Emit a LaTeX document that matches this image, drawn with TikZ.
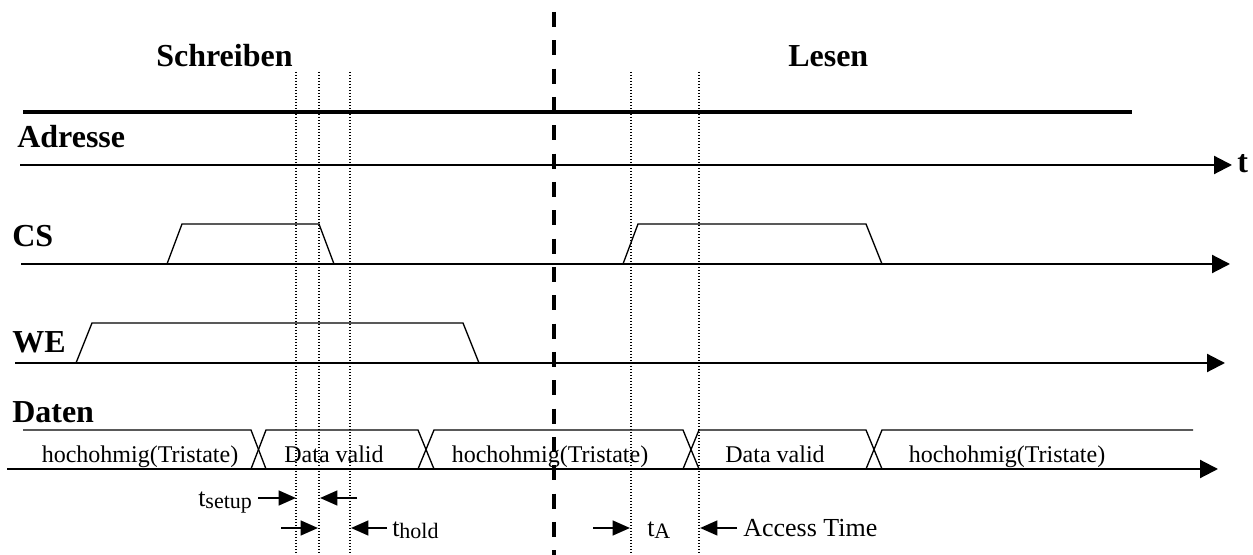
\documentclass[tikz,border=0pt]{standalone}
\usepackage{fontspec}
\setmainfont{Liberation Serif}
\usetikzlibrary{arrows.meta}
\begin{document}
\begin{tikzpicture}[x=0.75pt,y=-0.75pt,
  axis/.style={line width=1.6pt,-{Triangle[length=13.5pt,width=13.5pt]}},
  sig/.style={line width=1pt},
  lbl/.style={font=\fontsize{24pt}{28pt}\selectfont\bfseries,anchor=base west,inner sep=0pt},
  dtxt/.style={font=\fontsize{18pt}{21pt}\selectfont,anchor=base,inner sep=0pt},
  atxt/.style={font=\fontsize{19.5pt}{23pt}\selectfont,anchor=base west,inner sep=0pt},
  dotl/.style={line width=0.9pt,dash pattern=on 0.9pt off 1.35pt},
  tarr/.style={line width=1.7pt,-{Triangle[length=13pt,width=11pt]}},
  sepline/.style={line width=2.3pt,dash pattern=on 11.25pt off 10pt}
]
\newcommand{\subtxt}[1]{\raisebox{-1.5pt}{\fontsize{16.5pt}{19pt}\selectfont #1}}
\useasboundingbox (0,0) rectangle (1253,555);

% headings
\node[lbl] (schreiben) at (156,67) {Schreiben};
\node[lbl] (lesen) at (788,67) {Lesen};

% thick top line
\draw[line width=2.5pt] (23,112) -- (1132,112);

% labels
\node[lbl] (adr) at (17,148) {Adresse};
\node[lbl] (cs) at (12,247) {CS};
\node[lbl] (we) at (12,353) {WE};
\node[lbl] (daten) at (12,423) {Daten};
\node[lbl] (t) at (1237,173) {t};

% axes
\coordinate (a0) at (20,165); \coordinate (a1) at (1232,165);
\draw[axis] (a0) -- (a1);
\coordinate (c0) at (21,264); \coordinate (c1) at (1230,264);
\draw[axis] (c0) -- (c1);
\coordinate (w0) at (15,363); \coordinate (w1) at (1225,363);
\draw[axis] (w0) -- (w1);
\coordinate (d0) at (7,469); \coordinate (d1) at (1218,469);
\draw[axis] (d0) -- (d1);

% CS pulses
\draw[sig] (167,264) -- (182,224) -- (319,224) -- (334,264);
\draw[sig] (623,264) -- (638,224) -- (866,224) -- (882,264);

% WE pulse
\draw[sig] (76,363) -- (92,323) -- (463,323) -- (479,363);

% data bus
\draw[sig] (23,430) -- (251,430) -- (266,469);
\draw[sig] (251,469) -- (266,430) -- (418,430) -- (434,469);
\draw[sig] (418,469) -- (434,430) -- (683,430) -- (699,469);
\draw[sig] (683,469) -- (699,430) -- (866,430) -- (882,469);
\draw[sig] (866,469) -- (882,430) -- (1193,430);

\node[dtxt] (h1) at (140,463) {hochohmig(Tristate)};
\node[dtxt] (v1) at (334,463) {Data valid};
\node[dtxt] (h2) at (550,463) {hochohmig(Tristate)};
\node[dtxt] (v2) at (775,463) {Data valid};
\node[dtxt] (h3) at (1007,463) {hochohmig(Tristate)};

% dotted guide lines
\foreach \x in {296,319,350,631,699} \draw[dotl] (\x,72) -- (\x,555);

% timing annotations
\node[atxt] (tsetup) at (198,507) {t\subtxt{setup}};
\coordinate (s1) at (258,498); \coordinate (s2) at (296,498);
\draw[tarr] (s1) -- (s2);
\coordinate (s3) at (357,498); \coordinate (s4) at (320,498);
\draw[tarr] (s3) -- (s4);
\coordinate (h1a) at (281,528); \coordinate (h1b) at (318,528);
\draw[tarr] (h1a) -- (h1b);
\coordinate (h2a) at (387,528); \coordinate (h2b) at (351,528);
\draw[tarr] (h2a) -- (h2b);
\node[atxt] (thold) at (392,537) {t\subtxt{hold}};

\coordinate (r1a) at (593,528); \coordinate (r1b) at (630,528);
\draw[tarr] (r1a) -- (r1b);
\node[atxt] (ta) at (647,537) {t\subtxt{A}};
\coordinate (r2a) at (737,528); \coordinate (r2b) at (700,528);
\draw[tarr] (r2a) -- (r2b);
\node[atxt] (acc) at (743,537) {Access Time};

% separator
\draw[sepline] (554,12) -- (554,555);
\end{tikzpicture}
\end{document}
